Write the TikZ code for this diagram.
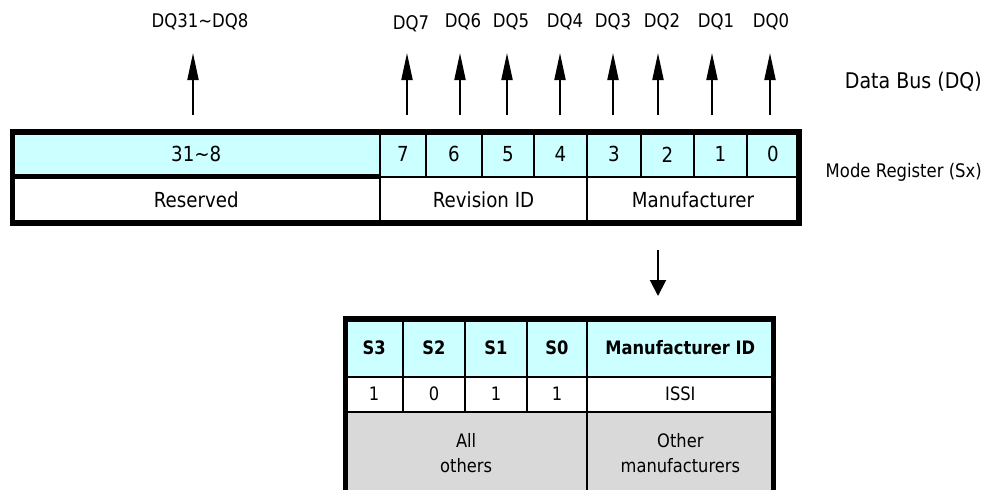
\documentclass[tikz,border=0pt]{standalone}
\usepackage{fontspec}
\setmainfont{DejaVu Sans}[FakeStretch=0.88]
\usetikzlibrary{arrows.meta}
\definecolor{regcyan}{HTML}{CCFFFF}
\definecolor{othgray}{HTML}{D9D9D9}
\newcommand\regfont{\fontsize{20.7pt}{25pt}\selectfont}
\newcommand\dqfont{\fontsize{18.8pt}{23pt}\selectfont}
\newcommand\tabfont{\fontsize{18.5pt}{25pt}\selectfont}
% name, x1, y1, x2, y2, fill, text, font
\newcommand\mycell[8]{%
  \node[cellbox, fill=#6, font=#8, minimum width={#4pt-#2pt}, minimum height={#5pt-#3pt}]
    (#1) at (#2,#3) {#7};}
\begin{document}
\begin{tikzpicture}[x=1pt,y=-1pt,
  cellbox/.style={draw, line width=2pt, inner sep=0pt, outer sep=0pt, anchor=north west, align=center},
  uparr/.style={line width=2pt, -{Triangle[length=27pt,width=11pt]}},
  downarr/.style={line width=2pt, -{Triangle[length=16pt,width=16pt]}},
  dqlabel/.style={font=\dqfont, inner sep=0pt}]
\useasboundingbox (0,0) rectangle (983,490);

% --- top register, first row
\mycell{c31}{12.5}{132.2}{380}{176.5}{regcyan}{31\char"7E 8}{\regfont}
\mycell{c7}{380}{132.2}{425.7}{176.5}{regcyan}{7}{\regfont}
\mycell{c6}{425.7}{132.2}{482}{176.5}{regcyan}{6}{\regfont}
\mycell{c5}{482}{132.2}{534}{176.5}{regcyan}{5}{\regfont}
\mycell{c4}{534}{132.2}{587}{176.5}{regcyan}{4}{\regfont}
\mycell{c3}{587}{132.2}{641}{176.5}{regcyan}{3}{\regfont}
\mycell{c2}{641}{132.2}{694}{176.5}{regcyan}{2}{\regfont}
\mycell{c1}{694}{132.2}{747}{176.5}{regcyan}{1}{\regfont}
\mycell{c0}{747}{132.2}{799}{176.5}{regcyan}{0}{\regfont}
% --- second row
\mycell{res}{12.5}{176.5}{380}{223.2}{white}{Reserved}{\regfont}
\mycell{rev}{380}{176.5}{587}{223.2}{white}{Revision ID}{\regfont}
\mycell{man}{587}{176.5}{799}{223.2}{white}{Manufacturer}{\regfont}
% thick borders
\draw[line width=5pt] (c31.south west) -- (c31.south east);
\draw[line width=5.5pt] (c31.north west) rectangle (man.south east);

% --- data bus labels and arrows
\node[dqlabel] (l31) at (200,22) {DQ31\char"7E DQ8};
\node[dqlabel] (l7) at (411,23.5) {DQ7};
\node[dqlabel] (l6) at (463,21.5) {DQ6};
\node[dqlabel] (l5) at (511,21.5) {DQ5};
\node[dqlabel] (l4) at (565,21.5) {DQ4};
\node[dqlabel] (l3) at (613,21.5) {DQ3};
\node[dqlabel] (l2) at (662,21.5) {DQ2};
\node[dqlabel] (l1) at (716,21.5) {DQ1};
\node[dqlabel] (l0) at (771,21.5) {DQ0};
\foreach \n/\x in {31/193,7/407,6/460,5/507,4/560,3/613,2/658,1/712,0/770}{
  \coordinate (b\n) at (\x,115);
  \coordinate (t\n) at (\x,53);
  \draw[uparr] (b\n) -- (t\n);
}
\node[font=\fontsize{21.6pt}{26pt}\selectfont, anchor=east, inner sep=0pt] (dbus) at (982,82) {Data Bus (DQ)};
\node[font=\fontsize{18.7pt}{23pt}\selectfont, anchor=east, inner sep=0pt] (mreg) at (982,172) {Mode Register (Sx)};

% --- arrow down
\coordinate (dstart) at (658,250);
\coordinate (dend) at (658,296);
\draw[downarr] (dstart) -- (dend);

% --- manufacturer table
\mycell{h3}{345.3}{319.2}{403}{376.5}{regcyan}{\bfseries S3}{\tabfont}
\mycell{h2}{403}{319.2}{465}{376.5}{regcyan}{\bfseries S2}{\tabfont}
\mycell{h1}{465}{319.2}{527}{376.5}{regcyan}{\bfseries S1}{\tabfont}
\mycell{h0}{527}{319.2}{587}{376.5}{regcyan}{\bfseries S0}{\tabfont}
\mycell{hid}{587}{319.2}{773.7}{376.5}{regcyan}{\bfseries Manufacturer ID}{\tabfont}
\mycell{v3}{345.3}{376.5}{403}{411.5}{white}{1}{\tabfont}
\mycell{v2}{403}{376.5}{465}{411.5}{white}{0}{\tabfont}
\mycell{v1}{465}{376.5}{527}{411.5}{white}{1}{\tabfont}
\mycell{v0}{527}{376.5}{587}{411.5}{white}{1}{\tabfont}
\mycell{vid}{587}{376.5}{773.7}{411.5}{white}{ISSI}{\tabfont}
\mycell{oth}{345.3}{411.5}{587}{494}{othgray}{All\\others}{\tabfont}
\mycell{othm}{587}{411.5}{773.7}{494}{othgray}{Other\\manufacturers}{\tabfont}
\draw[line width=5.5pt] (h3.north west) rectangle (othm.south east);
\end{tikzpicture}
\end{document}
